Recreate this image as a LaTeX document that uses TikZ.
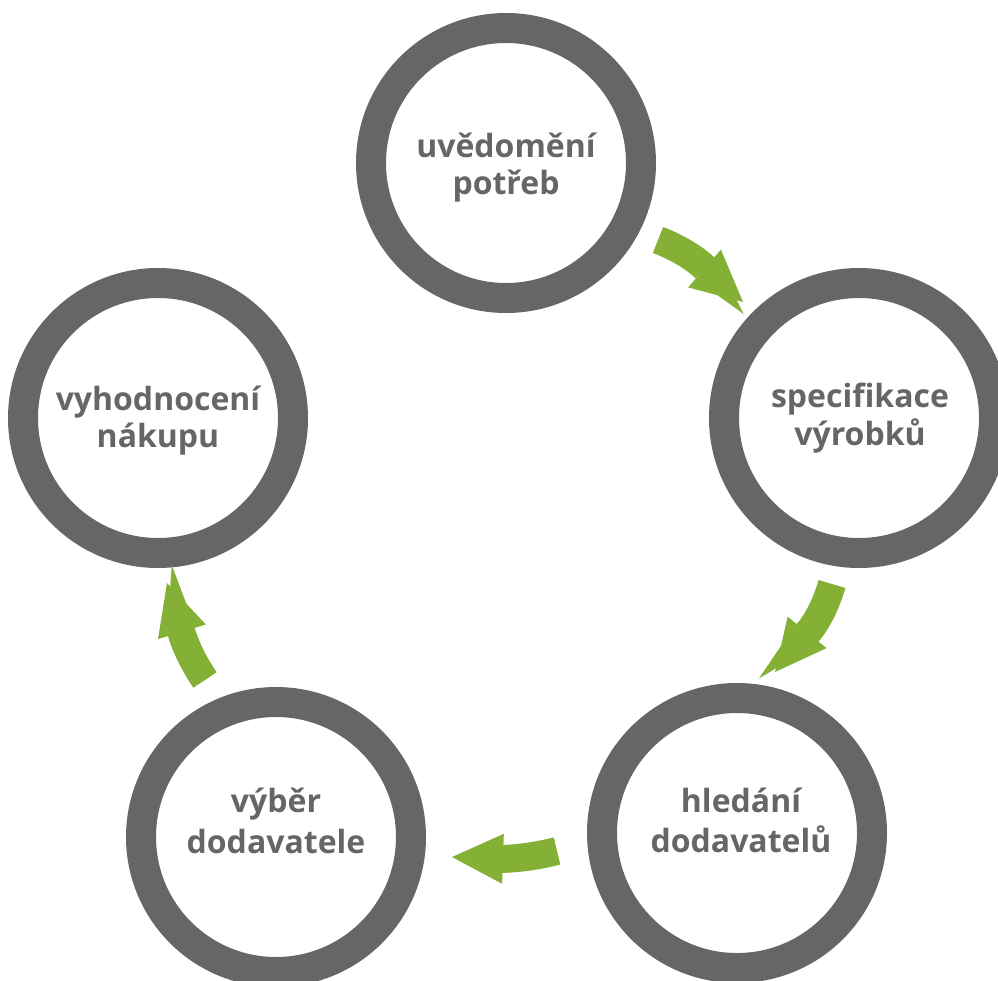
\documentclass[tikz,border=0pt]{standalone}
\usepackage{fontspec}
\setmainfont{Open Sans}
\usetikzlibrary{arrows.meta,calc}
\definecolor{ringgray}{HTML}{666666}
\definecolor{arrowgreen}{HTML}{84B135}
\newcommand\twolines[3]{\begin{tabular}[t]{@{}c@{}}#1\\[#3]#2\end{tabular}}
\begin{document}
\begin{tikzpicture}[x=1pt,y=1pt,
  stage/.style={circle, draw=ringgray, line width=30pt, minimum size=270pt,
    inner sep=0pt},
  lbl/.style={anchor=base, inner sep=0pt, text=ringgray,
    font=\fontsize{32}{37}\selectfont\bfseries},
  flow/.style={draw=arrowgreen, line width=28pt,
    -{Triangle[length=51pt,width=50pt,line width=0pt]}}
]
\useasboundingbox (0,0) rectangle (998,-980);
\clip (0,0) rectangle (998,-980);

\node[stage] (c1) at (506,-163) {};
\node[stage] (c2) at (859,-418) {};
\node[stage] (c3) at (737,-833) {};
\node[stage] (c4) at (276,-837) {};
\node[stage] (c5) at (158,-418) {};

\node[lbl] (t1) at ($(c1)+(0,6)$)  {\twolines{uvědomění}{potřeb}{0pt}};
\node[lbl] (t2) at ($(c2)+(1,11)$) {\twolines{specifikace}{výrobků}{1pt}};
\node[lbl] (t3) at ($(c3)+(4,21)$) {\twolines{hledání}{dodavatelů}{3pt}};
\node[lbl] (t4) at ($(c4)+(0,25)$) {\twolines{výběr}{dodavatele}{4pt}};
\node[lbl] (t5) at ($(c5)+(0,8)$)  {\twolines{vyhodnocení}{nákupu}{0pt}};

\draw[flow] ($(c1)+(152,-77)$) to[out=-21,in=139] ($(c2)+(-116,116)$);
\draw[flow] ($(c2)+(-27,-166)$) to[out=-106,in=51] ($(c3)+(38,161)$);
\draw[flow] ($(c3)+(-180,-18)$) to[out=194,in=-2] ($(c4)+(176,-20)$);
\draw[flow] ($(c4)+(-71,157)$) to[out=124,in=-73] ($(c5)+(9,-165)$);
\end{tikzpicture}
\end{document}
